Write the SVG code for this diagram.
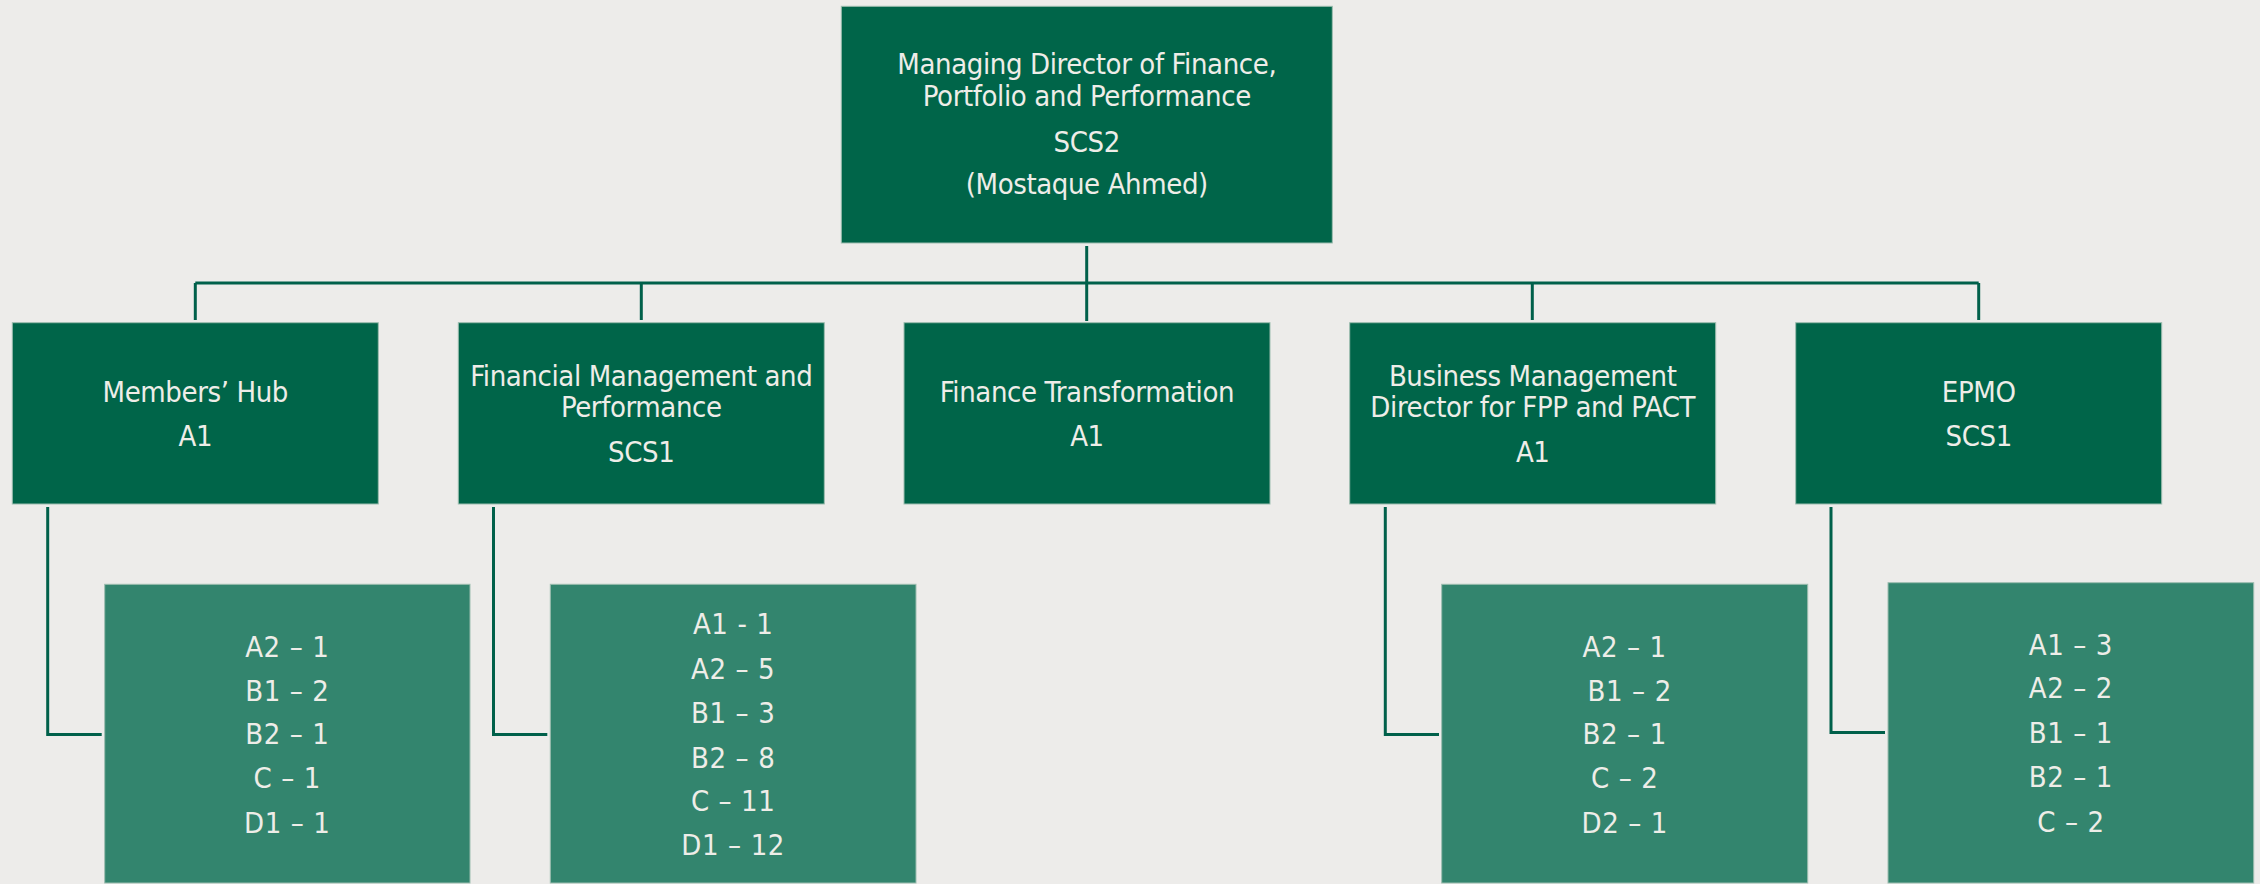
<svg xmlns="http://www.w3.org/2000/svg" width="2260" height="884" viewBox="0 0 2260 884">
<style>
.bg{fill:#EDECEA}
.dk{fill:#006549;stroke:#9dbdb0;stroke-width:1}
.lt{fill:#33856E;stroke:#9dbdb0;stroke-width:1}
text{font-family:"DejaVu Sans Condensed","DejaVu Sans",sans-serif;font-stretch:condensed;font-size:29px;fill:#EEEDE8;text-anchor:middle;letter-spacing:-0.4px}
.st text{letter-spacing:0.6px}
.cn{fill:none;stroke:#00604A;stroke-width:3}
</style>
<rect class="bg" x="0" y="0" width="2260" height="884"/>
<g id="connectors">
<line class="cn" x1="1086.7" y1="246" x2="1086.7" y2="321"/>
<line class="cn" x1="195.3" y1="283" x2="1978.7" y2="283"/>
<polyline class="cn" points="195.3,283 195.3,320"/>
<polyline class="cn" points="641.3,283 641.3,320"/>
<polyline class="cn" points="1532.3,283 1532.3,320"/>
<polyline class="cn" points="1978.7,283 1978.7,320"/>
<polyline class="cn" points="47.7,507 47.7,734.5 101.7,734.5"/>
<polyline class="cn" points="493.5,507 493.5,734.5 547.3,734.5"/>
<polyline class="cn" points="1385.3,507 1385.3,734.5 1439,734.5"/>
<polyline class="cn" points="1831,507 1831,732.5 1885,732.5"/>
</g>
<g id="md">
<rect class="dk" x="841.3" y="6.3" width="491" height="236.7"/>
<text x="1086.8" y="74">Managing Director of Finance,</text>
<text x="1086.8" y="106">Portfolio and Performance</text>
<text x="1086.8" y="151.7">SCS2</text>
<text x="1086.8" y="194">(Mostaque Ahmed)</text>
</g>
<g id="members-hub">
<rect class="dk" x="12.3" y="322.7" width="366" height="181.3"/>
<text x="195.3" y="401.7">Members’ Hub</text>
<text x="195.3" y="446">A1</text>
</g>
<g id="fin-mgmt">
<rect class="dk" x="458.3" y="322.7" width="366" height="181.3"/>
<text x="641.3" y="385.7">Financial Management and</text>
<text x="641.3" y="416.7">Performance</text>
<text x="641.3" y="461.7">SCS1</text>
</g>
<g id="fin-transformation">
<rect class="dk" x="904" y="322.7" width="366" height="181.3"/>
<text x="1087" y="401.7">Finance Transformation</text>
<text x="1087" y="446">A1</text>
</g>
<g id="business-mgmt">
<rect class="dk" x="1349.7" y="322.7" width="366" height="181.3"/>
<text x="1532.7" y="385.7">Business Management</text>
<text x="1532.7" y="416.7">Director for FPP and PACT</text>
<text x="1532.7" y="461.7">A1</text>
</g>
<g id="epmo">
<rect class="dk" x="1795.7" y="322.7" width="366" height="181.3"/>
<text x="1978.7" y="401.7">EPMO</text>
<text x="1978.7" y="446">SCS1</text>
</g>
<g id="members-hub-staff" class="st">
<rect class="lt" x="104.7" y="584.3" width="365.3" height="298.7"/>
<text x="287.3" y="656.7">A2 – 1</text>
<text x="287.3" y="701">B1 – 2</text>
<text x="287.3" y="744.3">B2 – 1</text>
<text x="287.3" y="788.3">C – 1</text>
<text x="287.3" y="833.3">D1 – 1</text>
</g>
<g id="fin-mgmt-staff" class="st">
<rect class="lt" x="550.3" y="584.3" width="365.7" height="298.7"/>
<text x="733.2" y="634.3">A1 - 1</text>
<text x="733.2" y="679">A2 – 5</text>
<text x="733.2" y="722.7">B1 – 3</text>
<text x="733.2" y="767.7">B2 – 8</text>
<text x="733.2" y="811">C – 11</text>
<text x="733.2" y="855">D1 – 12</text>
</g>
<g id="business-mgmt-staff" class="st">
<rect class="lt" x="1441.7" y="584.3" width="366" height="298.7"/>
<text x="1624.7" y="656.7">A2 – 1</text>
<text x="1629.7" y="701">B1 – 2</text>
<text x="1624.7" y="744.3">B2 – 1</text>
<text x="1624.7" y="788.3">C – 2</text>
<text x="1624.7" y="833.3">D2 – 1</text>
</g>
<g id="epmo-staff" class="st">
<rect class="lt" x="1888" y="582.7" width="365.7" height="300.3"/>
<text x="2070.9" y="655">A1 – 3</text>
<text x="2070.9" y="698.3">A2 – 2</text>
<text x="2070.9" y="742.7">B1 – 1</text>
<text x="2070.9" y="787.3">B2 – 1</text>
<text x="2070.9" y="831.7">C – 2</text>
</g>
</svg>
